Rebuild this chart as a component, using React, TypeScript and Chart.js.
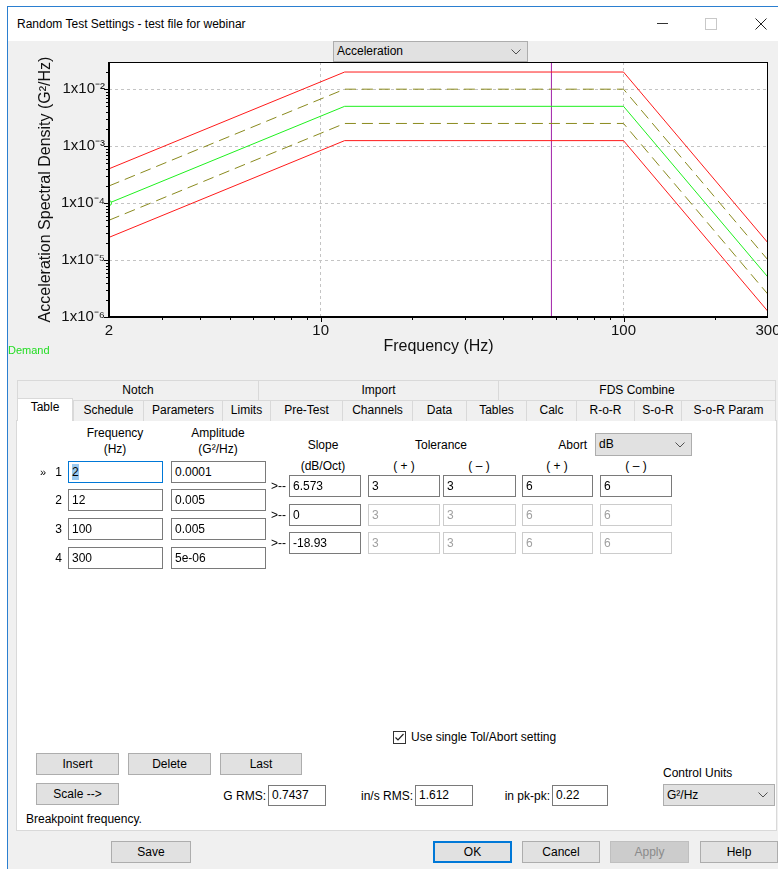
import React, { useEffect, useRef } from "react";
import { Chart, registerables } from "chart.js";

Chart.register(...registerables);

// ---------- chart data ----------
const FREQ_HZ = [2, 12, 100, 300];
const DEMAND = [0.0001, 0.005, 0.005, 5e-6];
const TOL_UPPER = [0.0002, 0.01, 0.01, 1e-5];
const TOL_LOWER = [0.00005, 0.0025, 0.0025, 2.5e-6];
const ABORT_UPPER = [0.0004, 0.02, 0.02, 2e-5];
const ABORT_LOWER = [0.000025, 0.00125, 0.00125, 1.25e-6];
const CURSOR_HZ = 57.8;
const X_TICKS = [2, 10, 100, 300];
const Y_TICKS = [1e-6, 1e-5, 1e-4, 1e-3, 1e-2];
const X_MIN = 2;
const X_MAX = 300;
const Y_MIN = 1e-6;
const Y_MAX = 0.03;

// ---------- form data ----------
const BP_FREQ = ["2", "12", "100", "300"];
const BP_AMP = ["0.0001", "0.005", "0.005", "5e-06"];
const SLOPES = ["6.573", "0", "-18.93"];
const TOL_PLUS = ["3", "3", "3"];
const TOL_MINUS = ["3", "3", "3"];
const ABORT_PLUS = ["6", "6", "6"];
const ABORT_MINUS = ["6", "6", "6"];
const TABS_TOP = ["Notch", "Import", "FDS Combine"];
const TABS_BOTTOM = ["Table", "Schedule", "Parameters", "Limits", "Pre-Test", "Channels", "Data", "Tables", "Calc", "R-o-R", "S-o-R", "S-o-R Param"];

const FONT = "'Liberation Sans', Arial, Helvetica, sans-serif";

const SUP: Record<string, string> = {
  "-": "\u207B", "0": "\u2070", "1": "\u00B9", "2": "\u00B2", "3": "\u00B3",
  "4": "\u2074", "5": "\u2075", "6": "\u2076", "7": "\u2077", "8": "\u2078", "9": "\u2079",
};

const pts = (ys: number[]) => FREQ_HZ.map((f, i) => ({ x: f, y: ys[i] }));

const framePlugin = {
  id: "frameTicks",
  beforeDraw(chart: any) {
    const { ctx, chartArea } = chart;
    ctx.save();
    ctx.fillStyle = "#ffffff";
    ctx.fillRect(chartArea.left, chartArea.top, chartArea.right - chartArea.left, chartArea.bottom - chartArea.top);
    ctx.restore();
  },
  afterDraw(chart: any) {
    const { ctx, chartArea } = chart;
    const xs = chart.scales.x;
    const ys = chart.scales.y;
    const { left, right, top, bottom } = chartArea;
    ctx.save();
    ctx.strokeStyle = "#000";
    ctx.lineWidth = 1;
    for (let d = 1; d <= 100; d *= 10) {
      for (let m = 1; m <= 9; m++) {
        const v = m * d;
        if (v <= X_MIN || v >= X_MAX) continue;
        const px = Math.round(xs.getPixelForValue(v)) + 0.5;
        const len = m === 1 ? 5 : 3;
        ctx.beginPath();
        ctx.moveTo(px, bottom);
        ctx.lineTo(px, bottom + len);
        ctx.stroke();
      }
    }
    for (let d = 1e-6; d < Y_MAX; d *= 10) {
      for (let m = 1; m <= 9; m++) {
        const v = m * d;
        if (v >= Y_MAX) continue;
        const py = Math.round(ys.getPixelForValue(v)) + 0.5;
        const len = m === 1 ? 5 : 3;
        ctx.beginPath();
        ctx.moveTo(left - len, py);
        ctx.lineTo(left, py);
        ctx.stroke();
      }
    }
    ctx.strokeRect(left + 0.5, top + 0.5, right - left - 1, bottom - top - 1);
    ctx.lineWidth = 2;
    ctx.beginPath();
    ctx.moveTo(left, top);
    ctx.lineTo(left, bottom);
    ctx.lineTo(right, bottom);
    ctx.stroke();
    ctx.restore();
  },
};

function PsdChart() {
  const ref = useRef<HTMLCanvasElement | null>(null);
  useEffect(() => {
    if (!ref.current) return;
    const gridColor = (c: any) => {
      const v = c.tick ? c.tick.value : null;
      if (v === X_MIN || v === X_MAX || v === Y_MIN) return "rgba(0,0,0,0)";
      return "#c4c4c4";
    };
    const chart = new Chart(ref.current, {
      type: "line",
      data: {
        datasets: [
          { label: "Abort upper", data: pts(ABORT_UPPER), borderColor: "#ff1a1a", borderWidth: 1, pointRadius: 0 },
          { label: "Abort lower", data: pts(ABORT_LOWER), borderColor: "#ff1a1a", borderWidth: 1, pointRadius: 0 },
          { label: "Tol upper", data: pts(TOL_UPPER), borderColor: "#8a8a1e", borderWidth: 1, borderDash: [11, 6], pointRadius: 0 },
          { label: "Tol lower", data: pts(TOL_LOWER), borderColor: "#8a8a1e", borderWidth: 1, borderDash: [11, 6], pointRadius: 0 },
          {
            label: "Demand", data: pts(DEMAND), borderColor: "#1ef01e", borderWidth: 1,
            pointRadius: [2.5, 0, 0, 0], pointBackgroundColor: "#ffffff", pointBorderColor: "#1ef01e", pointBorderWidth: 1,
          },
          {
            label: "Cursor", data: [{ x: CURSOR_HZ, y: Y_MIN }, { x: CURSOR_HZ, y: Y_MAX }],
            borderColor: "#a020a8", borderWidth: 1, pointRadius: 0,
          },
        ],
      },
      options: {
        animation: false,
        responsive: false,
        maintainAspectRatio: false,
        layout: { padding: { left: 0, top: 21, right: 10, bottom: 0 } },
        plugins: { legend: { display: false }, tooltip: { enabled: false } },
        scales: {
          x: {
            type: "logarithmic",
            min: X_MIN,
            max: X_MAX,
            afterBuildTicks: (s: any) => { s.ticks = X_TICKS.map((v) => ({ value: v })); },
            afterFit: (s: any) => { s.height = 44; s.paddingLeft = 0; s.paddingRight = 0; },
            grid: { color: gridColor, drawTicks: false },
            border: { display: false, dash: [3, 3] },
            ticks: {
              padding: 5, color: "#111", font: { family: FONT, size: 15 },
              maxRotation: 0, autoSkip: false,
              callback: (v: any) => String(v),
            },
            title: { display: true, text: "Frequency (Hz)", color: "#111", font: { family: FONT, size: 16 }, padding: { top: 0, bottom: 5 } },
          },
          y: {
            type: "logarithmic",
            min: Y_MIN,
            max: Y_MAX,
            afterBuildTicks: (s: any) => { s.ticks = Y_TICKS.map((v) => ({ value: v })); },
            afterFit: (s: any) => { s.width = 109; s.paddingTop = 0; s.paddingBottom = 0; },
            grid: { color: gridColor, drawTicks: false },
            border: { display: false, dash: [3, 3] },
            ticks: {
              padding: 4, color: "#111", font: { family: FONT, size: 15 }, autoSkip: false,
              callback: (v: any) => "1x10" + String(Math.round(Math.log10(Number(v)))).split("").map((c) => SUP[c]).join(""),
            },
            title: { display: true, text: "Acceleration Spectral Density (G\u00B2/Hz)", color: "#111", font: { family: FONT, size: 16 }, padding: { top: 36, bottom: 0 } },
          },
        },
      } as any,
      plugins: [framePlugin],
    });
    return () => chart.destroy();
  }, []);
  return <canvas ref={ref} width={778} height={320} style={{ position: "absolute", left: 0, top: 41, width: 778, height: 320 }} />;
}

// ---------- UI helpers ----------
function T({ x, y, text, align = "left", w = 200, color = "#000", size = 12 }: any) {
  const style: any = { position: "absolute", top: y - 8, height: 16, lineHeight: "16px", fontSize: size, color, whiteSpace: "nowrap" };
  if (align === "center") { style.left = x - w / 2; style.width = w; style.textAlign = "center"; }
  else if (align === "right") { style.left = x - w; style.width = w; style.textAlign = "right"; }
  else style.left = x;
  return <div style={style}>{text}</div>;
}

function Field({ x, y, w, h = 22, text, state = "normal" }: any) {
  const border = state === "disabled" ? "#cccccc" : state === "focus" ? "#0078d7" : "#7a7a7a";
  return (
    <div style={{
      position: "absolute", left: x, top: y, width: w, height: h, boxSizing: "border-box",
      border: `1px solid ${border}`, background: "#fff", fontSize: 12, lineHeight: `${h - 2}px`,
      paddingLeft: 3, color: state === "disabled" ? "#a0a0a0" : "#000", whiteSpace: "nowrap", overflow: "hidden",
    }}>
      {state === "focus" ? <span style={{ background: "#99c9f0", padding: "1px 0" }}>{text}</span> : text}
    </div>
  );
}

function Btn({ x, y, w, h = 22, text, variant = "normal" }: any) {
  let bg = "#e1e1e1", border = "#adadad", color = "#000";
  if (variant === "primary") border = "#0078d7";
  if (variant === "disabled") { bg = "#cccccc"; border = "#bfbfbf"; color = "#8a8a8a"; }
  return (
    <div style={{
      position: "absolute", left: x, top: y, width: w, height: h, boxSizing: "border-box",
      border: `1px solid ${border}`, background: bg, color, fontSize: 12, lineHeight: `${h - 2}px`, textAlign: "center",
      boxShadow: variant === "primary" ? "inset 0 0 0 1px #0078d7" : "none",
    }}>{text}</div>
  );
}

function Chevron({ x, y }: any) {
  return (
    <svg width={10} height={6} style={{ position: "absolute", left: x, top: y }}>
      <polyline points="0.5,0.5 5,5 9.5,0.5" fill="none" stroke="#505050" strokeWidth={1} />
    </svg>
  );
}

function Select({ x, y, w, h = 22, text }: any) {
  return (
    <div style={{
      position: "absolute", left: x, top: y, width: w, height: h, boxSizing: "border-box",
      border: "1px solid #adadad", background: "#e1e1e1", fontSize: 12, lineHeight: `${h - 2}px`, paddingLeft: 3,
    }}>
      {text}
      <Chevron x={w - 18} y={Math.round(h / 2) - 4} />
    </div>
  );
}

export default function App() {
  const rowY = [461, 489, 518, 547];
  const slopeY = [475, 504, 532];
  const topTabs = [[17, 258], [258, 498], [498, 776]];
  const botTabs = [[17, 73], [73, 143], [143, 222], [222, 270], [270, 342], [342, 412], [412, 466], [466, 526], [526, 576], [576, 634], [634, 681], [681, 776]];

  return (
    <div style={{ position: "fixed", left: 0, top: 0, width: 778, height: 869, background: "#fff", fontFamily: FONT, overflow: "hidden" }}>
      <div style={{ position: "absolute", left: 7, top: 6, width: 780, height: 870, borderLeft: "1px solid #2b7fd0", borderTop: "1px solid #2b7fd0", background: "#f0f0f0" }} />
      <div style={{ position: "absolute", left: 8, top: 7, width: 770, height: 34, background: "#fff" }} />
      <T x={17} y={24} text="Random Test Settings - test file for webinar" size={12} />
      <div style={{ position: "absolute", left: 657, top: 23, width: 11, height: 1, background: "#333" }} />
      <div style={{ position: "absolute", left: 705, top: 18, width: 10, height: 10, border: "1px solid #c8c8c8" }} />
      <svg width={12} height={12} style={{ position: "absolute", left: 755, top: 18 }}>
        <line x1={0.5} y1={0.5} x2={11.5} y2={11.5} stroke="#222" strokeWidth={1} />
        <line x1={11.5} y1={0.5} x2={0.5} y2={11.5} stroke="#222" strokeWidth={1} />
      </svg>

      <PsdChart />
      <Select x={333} y={41} w={195} h={21} text="Acceleration" />
      <T x={8} y={350} text="Demand" size={11} color="#22dd22" />

      {TABS_TOP.map((t, i) => (
        <div key={t} style={{
          position: "absolute", left: topTabs[i][0], top: 380, width: topTabs[i][1] - topTabs[i][0], height: 20, boxSizing: "border-box",
          borderTop: "1px solid #d9d9d9", borderLeft: "1px solid #d9d9d9", borderRight: i === 2 ? "1px solid #d9d9d9" : "none",
          background: "#f0f0f0", fontSize: 12, lineHeight: "19px", textAlign: "center",
        }}>{t}</div>
      ))}
      <div style={{ position: "absolute", left: 16, top: 420, width: 761, height: 411, boxSizing: "border-box", border: "1px solid #d9d9d9", background: "#fff" }} />
      {TABS_BOTTOM.map((t, i) => {
        const sel = i === 0;
        return (
          <div key={t} style={{
            position: "absolute", left: botTabs[i][0], top: sel ? 398 : 400, width: botTabs[i][1] - botTabs[i][0], height: sel ? 23 : 21, boxSizing: "border-box",
            borderTop: "1px solid #d9d9d9", borderLeft: "1px solid #d9d9d9", borderRight: i === TABS_BOTTOM.length - 1 || sel ? "1px solid #d9d9d9" : "none",
            background: sel ? "#fff" : "#f0f0f0", fontSize: 12, lineHeight: sel ? "17px" : "19px", textAlign: "center",
          }}>{t}</div>
        );
      })}

      <T x={115} y={433} text="Frequency" align="center" />
      <T x={115} y={449} text="(Hz)" align="center" />
      <T x={218} y={433} text="Amplitude" align="center" />
      <T x={218} y={449} text={"(G\u00B2/Hz)"} align="center" />
      <T x={323} y={445} text="Slope" align="center" />
      <T x={323} y={466} text="(dB/Oct)" align="center" />
      <T x={441} y={445} text="Tolerance" align="center" />
      <T x={404} y={466} text="( + )" align="center" />
      <T x={479} y={466} text={"( \u2013 )"} align="center" />
      <T x={587} y={445} text="Abort" align="right" />
      <Select x={595} y={433} w={97} h={23} text="dB" />
      <T x={557} y={466} text="( + )" align="center" />
      <T x={636} y={466} text={"( \u2013 )"} align="center" />

      <T x={40} y={472} text={"\u00BB"} size={11} />
      {BP_FREQ.map((f, i) => (
        <React.Fragment key={"r" + i}>
          <T x={62} y={rowY[i] + 11} text={String(i + 1)} align="right" w={20} />
          <Field x={68} y={rowY[i]} w={95} text={f} state={i === 0 ? "focus" : "normal"} />
          <Field x={171} y={rowY[i]} w={95} text={BP_AMP[i]} />
        </React.Fragment>
      ))}
      {SLOPES.map((s, i) => {
        const st = i === 0 ? "normal" : "disabled";
        return (
          <React.Fragment key={"s" + i}>
            <T x={271} y={slopeY[i] + 11} text=">--" />
            <Field x={289} y={slopeY[i]} w={72} text={s} />
            <Field x={368} y={slopeY[i]} w={72} text={TOL_PLUS[i]} state={st} />
            <Field x={443} y={slopeY[i]} w={73} text={TOL_MINUS[i]} state={st} />
            <Field x={522} y={slopeY[i]} w={71} text={ABORT_PLUS[i]} state={st} />
            <Field x={600} y={slopeY[i]} w={72} text={ABORT_MINUS[i]} state={st} />
          </React.Fragment>
        );
      })}

      <svg width={13} height={13} style={{ position: "absolute", left: 393, top: 731 }}>
        <rect x={0.5} y={0.5} width={12} height={12} fill="#fff" stroke="#333" />
        <polyline points="2.5,6.5 5,9 10.5,3" fill="none" stroke="#222" strokeWidth={1.2} />
      </svg>
      <T x={411} y={737} text="Use single Tol/Abort setting" />

      <Btn x={36} y={753} w={83} text="Insert" />
      <Btn x={128} y={753} w={83} text="Delete" />
      <Btn x={220} y={753} w={82} text="Last" />
      <Btn x={36} y={783} w={83} text="Scale -->" />

      <T x={266} y={796} text="G RMS:" align="right" />
      <Field x={268} y={785} w={58} h={21} text="0.7437" />
      <T x={413} y={796} text="in/s RMS:" align="right" />
      <Field x={415} y={785} w={58} h={21} text="1.612" />
      <T x={550} y={796} text="in pk-pk:" align="right" />
      <Field x={552} y={785} w={56} h={21} text="0.22" />

      <T x={663} y={773} text="Control Units" />
      <Select x={663} y={784} w={112} h={22} text={"G\u00B2/Hz"} />

      <T x={26} y={819} text="Breakpoint frequency." />

      <Btn x={111} y={841} w={80} text="Save" />
      <Btn x={433} y={841} w={79} text="OK" variant="primary" />
      <Btn x={522} y={841} w={78} text="Cancel" />
      <Btn x={610} y={841} w={79} text="Apply" variant="disabled" />
      <Btn x={700} y={841} w={78} text="Help" />
    </div>
  );
}
